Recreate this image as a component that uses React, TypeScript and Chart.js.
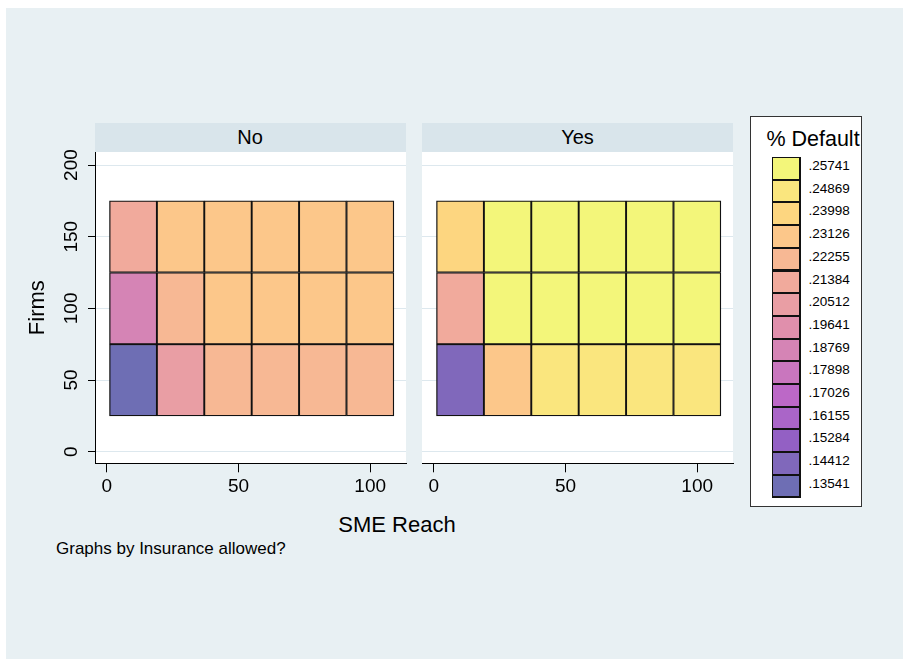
import React, { useEffect, useRef } from "react";
import { Chart, registerables } from "chart.js";

Chart.register(...registerables);

// ---------- data ----------
const reachValues = [10, 28, 46, 64, 82, 100];
const firmsValues = [50, 100, 150];

// % default by row (firms = 50, 100, 150), panel "No"
const noFirms50 = [0.13541, 0.20512, 0.22255, 0.22255, 0.22255, 0.22255];
const noFirms100 = [0.18769, 0.22255, 0.23126, 0.23126, 0.23126, 0.23126];
const noFirms150 = [0.21384, 0.23126, 0.23126, 0.23126, 0.23126, 0.23126];

// panel "Yes"
const yesFirms50 = [0.14412, 0.23126, 0.24869, 0.24869, 0.24869, 0.24869];
const yesFirms100 = [0.21384, 0.25741, 0.25741, 0.25741, 0.25741, 0.25741];
const yesFirms150 = [0.23998, 0.25741, 0.25741, 0.25741, 0.25741, 0.25741];

const panelNames = ["No", "Yes"];

const legendCuts = [
  0.25741, 0.24869, 0.23998, 0.23126, 0.22255, 0.21384, 0.20512, 0.19641,
  0.18769, 0.17898, 0.17026, 0.16155, 0.15284, 0.14412, 0.13541,
];
const legendColors = [
  "#f3f67a", "#fae67e", "#fdd680", "#fcc78a", "#f7b894", "#f1aa9c",
  "#e99ea4", "#e08fac", "#d584b5", "#c976be", "#bc68c7", "#aa65c8",
  "#9360c4", "#8068bb", "#6e6eb4",
];

const xTicks = [0, 50, 100];
const yTicks = [0, 50, 100, 150, 200];

const xTitle = "SME Reach";
const yTitle = "Firms";
const legendTitle = "% Default";
const noteText = "Graphs by Insurance allowed?";

// ---------- helpers ----------
const FONT = "'Liberation Sans', Arial, sans-serif";
const BG = "#e8f0f3";
const STRIP = "#d9e5eb";
const GRID = "#dde8ee";

function colorFor(v: number): string {
  let best = legendColors[legendColors.length - 1];
  let bestCut = -Infinity;
  legendCuts.forEach((c, i) => {
    if (c <= v + 1e-9 && c > bestCut) {
      bestCut = c;
      best = legendColors[i];
    }
  });
  return best;
}

const plotBg = {
  id: "plotBg",
  beforeDraw(chart: any) {
    const { ctx, chartArea } = chart;
    ctx.save();
    ctx.fillStyle = "#ffffff";
    ctx.fillRect(chartArea.left, chartArea.top, chartArea.width, chartArea.height);
    ctx.restore();
  },
};

function buildDatasets(rows: number[][]) {
  const step = firmsValues[1] - firmsValues[0];
  return rows.map((vals, r) => ({
    label: String(firmsValues[r]),
    data: reachValues.map((x) => ({
      x,
      y: [firmsValues[r] - step / 2, firmsValues[r] + step / 2],
    })),
    backgroundColor: vals.map(colorFor),
    borderColor: "#111111",
    borderWidth: 1.3,
    borderSkipped: false,
    grouped: false,
    barPercentage: 1,
    categoryPercentage: 1,
  }));
}

function makeConfig(rows: number[][], showY: boolean) {
  return {
    type: "bar" as const,
    data: { datasets: buildDatasets(rows) as any },
    plugins: [plotBg],
    options: {
      animation: false as const,
      responsive: false,
      maintainAspectRatio: false,
      layout: {
        padding: showY
          ? { left: 0, right: 4, top: 12, bottom: 0 }
          : { left: 10, right: 9, top: 12, bottom: 0 },
      },
      plugins: {
        legend: { display: false },
        tooltip: { enabled: false },
        title: { display: false },
      },
      scales: {
        x: {
          type: "linear" as const,
          min: -4.5,
          max: 113.6,
          offset: false,
          afterBuildTicks: (s: any) => {
            s.ticks = xTicks.map((v) => ({ value: v }));
          },
          afterFit: (s: any) => {
            s.height = 46.7;
          },
          grid: {
            display: true,
            drawOnChartArea: false,
            drawTicks: true,
            tickLength: 9,
            tickColor: "#000",
            offset: false,
          },
          border: { display: true, color: "#000", width: 1 },
          ticks: {
            autoSkip: false,
            maxRotation: 0,
            padding: 3,
            color: "#000",
            font: { family: FONT, size: 19 },
          },
        },
        y: {
          type: "linear" as const,
          min: -8.1,
          max: 209.1,
          afterBuildTicks: (s: any) => {
            s.ticks = yTicks.map((v) => ({ value: v }));
          },
          afterFit: (s: any) => {
            s.width = showY ? 75 : 0;
          },
          grid: {
            color: GRID,
            lineWidth: 1,
            drawTicks: showY,
            tickLength: 7,
            tickColor: "#000",
          },
          border: { display: showY, color: "#000", width: 1 },
          ticks: {
            display: showY,
            minRotation: 90,
            maxRotation: 90,
            crossAlign: "center" as const,
            padding: 0,
            color: "#000",
            font: { family: FONT, size: 19 },
          },
          title: {
            display: showY,
            text: yTitle,
            color: "#000",
            font: { family: FONT, size: 22 },
            padding: { top: 5, bottom: 0 },
          },
        },
      },
    },
  };
}

function Panel(props: { rows: number[][]; showY: boolean; left: number; width: number }) {
  const ref = useRef<HTMLCanvasElement>(null);
  useEffect(() => {
    if (!ref.current) return;
    const chart = new Chart(ref.current, makeConfig(props.rows, props.showY) as any);
    return () => chart.destroy();
  }, []);
  return (
    <canvas
      ref={ref}
      width={props.width}
      height={370}
      style={{ position: "absolute", left: props.left, top: 140, width: props.width, height: 370 }}
    />
  );
}

function Strip(props: { left: number; width: number; text: string }) {
  return (
    <div
      style={{
        position: "absolute",
        left: props.left,
        top: 123,
        width: props.width,
        height: 28.5,
        background: STRIP,
        font: `20px ${FONT}`,
        color: "#000",
        textAlign: "center",
        lineHeight: "28.5px",
      }}
    >
      {props.text}
    </div>
  );
}

export default function App() {
  const pitch = 22.7;
  return (
    <div
      style={{
        position: "absolute",
        left: 0,
        top: 0,
        width: 903,
        height: 659,
        background: "#ffffff",
        overflow: "hidden",
        fontFamily: FONT,
      }}
    >
      <div style={{ position: "absolute", left: 6, top: 8, width: 897, height: 651, background: BG }} />

      <Strip left={94.5} width={311} text={panelNames[0]} />
      <Strip left={422} width={311} text={panelNames[1]} />

      <Panel rows={[noFirms50, noFirms100, noFirms150]} showY={true} left={20} width={390} />
      <Panel rows={[yesFirms50, yesFirms100, yesFirms150]} showY={false} left={412} width={330} />

      <div
        style={{
          position: "absolute",
          left: 297,
          top: 510,
          width: 200,
          textAlign: "center",
          font: `22px ${FONT}`,
          color: "#000",
          lineHeight: "30px",
        }}
      >
        {xTitle}
      </div>
      <div
        style={{
          position: "absolute",
          left: 56,
          top: 538,
          font: `17px ${FONT}`,
          color: "#000",
          lineHeight: "22px",
          whiteSpace: "nowrap",
        }}
      >
        {noteText}
      </div>

      {/* legend */}
      <div
        style={{
          position: "absolute",
          left: 749.5,
          top: 115.5,
          width: 112.5,
          height: 391.5,
          background: "#ffffff",
          border: "1.5px solid #333",
          boxSizing: "border-box",
        }}
      />
      <div
        style={{
          position: "absolute",
          left: 760,
          top: 126,
          width: 106,
          textAlign: "center",
          font: `21.5px ${FONT}`,
          color: "#000",
          lineHeight: "26px",
          whiteSpace: "nowrap",
        }}
      >
        {legendTitle}
      </div>
      <div
        style={{
          position: "absolute",
          left: 771.5,
          top: 156.5,
          width: 29,
          height: pitch * legendCuts.length + 0.5,
          background: "#111",
        }}
      />
      {legendCuts.map((c, i) => (
        <React.Fragment key={i}>
          <div
            style={{
              position: "absolute",
              left: 773,
              top: 158 + i * pitch,
              width: 26,
              height: pitch - 2,
              background: legendColors[i],
            }}
          />
          <div
            style={{
              position: "absolute",
              left: 808.5,
              top: 158 + i * pitch,
              height: pitch - 2,
              lineHeight: `${pitch - 2}px`,
              font: `13.5px ${FONT}`,
              color: "#000",
              whiteSpace: "nowrap",
            }}
          >
            {c.toFixed(5).replace(/^0/, "")}
          </div>
        </React.Fragment>
      ))}
    </div>
  );
}
